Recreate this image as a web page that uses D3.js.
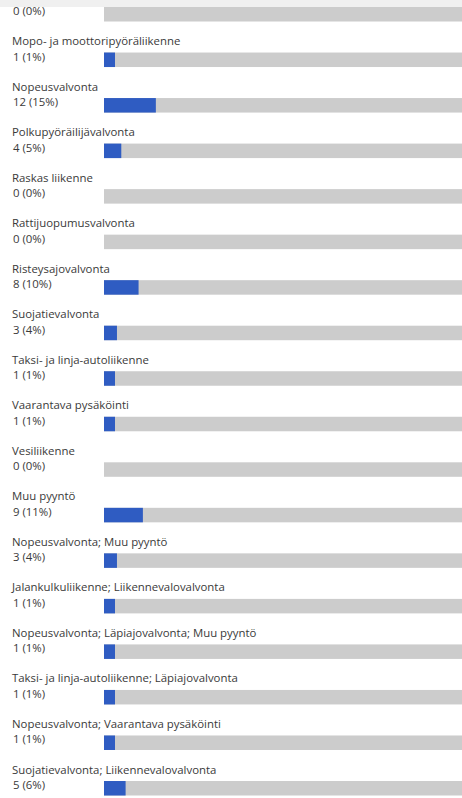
<!DOCTYPE html>
<html>
<head>
<meta charset="utf-8">
<script src="https://cdn.jsdelivr.net/npm/d3@7"></script>
<style>
  html, body { margin: 0; padding: 0; background: #ffffff; overflow: hidden; }
  svg { display: block; }
</style>
</head>
<body>
<div id="chart"></div>
<script>
// ---- data ----
const categories = [
  "Läpiajovalvonta",
  "Mopo- ja moottoripyöräliikenne",
  "Nopeusvalvonta",
  "Polkupyöräilijävalvonta",
  "Raskas liikenne",
  "Rattijuopumusvalvonta",
  "Risteysajovalvonta",
  "Suojatievalvonta",
  "Taksi- ja linja-autoliikenne",
  "Vaarantava pysäköinti",
  "Vesiliikenne",
  "Muu pyyntö",
  "Nopeusvalvonta; Muu pyyntö",
  "Jalankulkuliikenne; Liikennevalovalvonta",
  "Nopeusvalvonta; Läpiajovalvonta; Muu pyyntö",
  "Taksi- ja linja-autoliikenne; Läpiajovalvonta",
  "Nopeusvalvonta; Vaarantava pysäköinti",
  "Suojatievalvonta; Liikennevalovalvonta"
];
const counts   = [0, 1, 12, 4, 0, 0, 8, 3, 1, 1, 0, 9, 3, 1, 1, 1, 1, 5];
const percents = [0, 1, 15, 5, 0, 0, 10, 4, 1, 1, 0, 11, 4, 1, 1, 1, 1, 6];
const totalResponses = 81;

// ---- layout ----
const W = 462, H = 798;
const rowPitch = 45.53;
const top0 = -13;
const trackX = 104;
const barOffset = 20, barH = 14.5;
const minBar = 11;
const stripH = 7;
const font = "'Open Sans', 'Noto Sans', sans-serif";
const fontSize = "11.4px";

const rows = categories.map((c, i) => ({ cat: c, count: counts[i], pct: percents[i] }));

const svg = d3.select("#chart").append("svg")
  .attr("width", W).attr("height", H);

const y = d3.scaleBand()
  .domain(categories)
  .range([top0, top0 + rowPitch * categories.length])
  .paddingInner(0).paddingOuter(0);

const x = d3.scaleLinear()
  .domain([0, totalResponses])
  .range([0, 350]);

const g = svg.append("g").attr("class", "rows");

const row = g.selectAll("g.row").data(rows).join("g")
  .attr("class", "row")
  .attr("transform", d => `translate(0,${y(d.cat)})`);

// category labels (the first one lies above the visible area, under the top strip)
row.filter(d => y(d.cat) + 12.5 > stripH + 8).append("text")
  .attr("x", 12)
  .attr("y", 12.5)
  .attr("fill", "#3a3a3a")
  .style("font-family", font)
  .style("font-size", fontSize)
  .text(d => d.cat);

row.append("text")
  .attr("x", 13)
  .attr("y", 28)
  .attr("fill", "#3a3a3a")
  .style("font-family", font)
  .style("font-size", fontSize)
  .text(d => `${d.count} (${d.pct}%)`);

row.append("rect")
  .attr("class", "track")
  .attr("x", trackX)
  .attr("y", barOffset)
  .attr("width", W - trackX + 10)
  .attr("height", barH)
  .attr("fill", "#cccccc");

row.filter(d => d.count > 0).append("rect")
  .attr("class", "bar")
  .attr("x", trackX)
  .attr("y", barOffset)
  .attr("width", d => Math.max(minBar, x(d.count)))
  .attr("height", barH)
  .attr("fill", "#2f5cc2");

// top strip
svg.append("rect")
  .attr("x", 0).attr("y", 0)
  .attr("width", W).attr("height", stripH)
  .attr("fill", "#f0f0f0");
</script>
</body>
</html>
